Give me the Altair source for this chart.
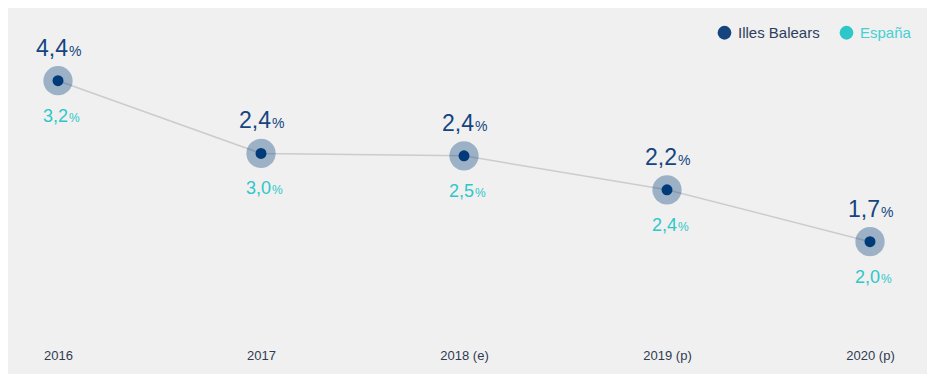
import altair as alt
import pandas as pd

years = ["2016", "2017", "2018 (e)", "2019 (p)", "2020 (p)"]
balears = [4.4, 2.4, 2.4, 2.2, 1.7]
espana = [3.2, 3.0, 2.5, 2.4, 2.0]
# vertical level of the grey line / markers
line_level = [4.4, 3.18, 3.14, 2.57, 1.7]
series = ["Illes Balears", "España"]
series_colors = ["#14457f", "#2ec7c9"]

FONT = "Liberation Sans"


def fmt(v):
    return f"{v:.1f}".replace(".", ",")


base_df = pd.DataFrame({"year": years, "level": line_level})
lab_b = pd.DataFrame({"year": years, "level": line_level,
                      "series": series[0], "txt": [fmt(v) for v in balears], "pct": "%"})
lab_e = pd.DataFrame({"year": years, "level": line_level,
                      "series": series[1], "txt": [fmt(v) for v in espana], "pct": "%"})

x = alt.X("year:N", sort=years,
          scale=alt.Scale(type="point", range=[50, 862], padding=0),
          axis=alt.Axis(title=None, domain=False, ticks=False, tickSize=0, grid=False,
                        labelAngle=0, labelFont=FONT, labelFontSize=13,
                        labelColor="#2f3b52", labelPadding=12, labelBaseline="middle"))
y = alt.Y("level:Q", scale=alt.Scale(domain=[0, 5.62]), axis=None)
color = alt.Color("series:N", scale=alt.Scale(domain=series, range=series_colors),
                  legend=alt.Legend(title=None, orient="none", direction="horizontal",
                                    legendX=709, legendY=17, symbolType="circle",
                                    symbolSize=190, symbolStrokeWidth=0, symbolOpacity=1,
                                    labelFont=FONT, labelFontSize=15, labelOffset=6,
                                    columnPadding=19,
                                    labelColor=alt.ExprRef("datum.label == 'España' ? '#45cfd0' : '#2d3e5c'")))

line = alt.Chart(base_df).mark_line(interpolate="linear", color="#cccccc",
                                    strokeWidth=1.5).encode(x=x, y=y)
halo = alt.Chart(base_df).mark_circle(size=855, color="#003a78", opacity=0.35).encode(x=x, y=y)
dot = alt.Chart(base_df).mark_circle(size=120, color="#003a78", opacity=1).encode(x=x, y=y)

num_b = alt.Chart(lab_b).mark_text(align="right", baseline="alphabetic", dx=10, dy=-25,
                                   font=FONT, fontSize=23).encode(x=x, y=y, text="txt:N", color=color)
pct_b = alt.Chart(lab_b).mark_text(align="left", baseline="alphabetic", dx=11, dy=-25,
                                   font=FONT, fontSize=14).encode(x=x, y=y, text="pct:N", color=color)
num_e = alt.Chart(lab_e).mark_text(align="right", baseline="alphabetic", dx=10, dy=41,
                                   font=FONT, fontSize=18).encode(x=x, y=y, text="txt:N", color=color)
pct_e = alt.Chart(lab_e).mark_text(align="left", baseline="alphabetic", dx=11, dy=41,
                                   font=FONT, fontSize=12).encode(x=x, y=y, text="pct:N", color=color)

chart = alt.layer(line, halo, dot, num_b, pct_b, num_e, pct_e).properties(
    width=919, height=335,
    background="#f0f0f0",
    padding={"left": 0, "right": 0, "top": 0, "bottom": 31},
    autosize=alt.AutoSizeParams(type="none"),
).configure_view(stroke=None)

chart.save("out.html", embed_options={"renderer": "svg", "actions": False})
